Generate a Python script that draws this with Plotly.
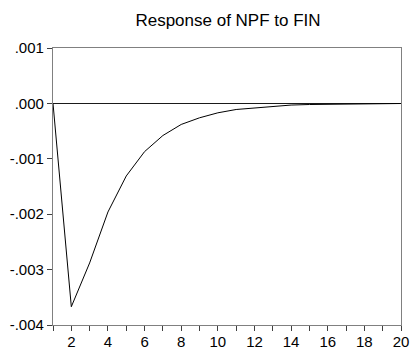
import plotly.graph_objects as go

periods = list(range(1, 21))
response = [0.0, -0.00367, -0.00288, -0.00196, -0.00131, -0.00087, -0.00058,
            -0.00038, -0.00026, -0.00017, -0.00011, -0.00008, -0.00005,
            -0.00003, -0.00002, -0.000015, -0.00001, -0.000006, -0.000004, -0.000002]
y_tick_vals = [0.001, 0.0, -0.001, -0.002, -0.003, -0.004]
y_tick_text = [".001", ".000", "-.001", "-.002", "-.003", "-.004"]
x_tick_vals = periods
x_tick_text = [str(p) if p % 2 == 0 else "" for p in periods]
title = "Response of NPF to FIN"

W, H = 410, 349
fig = go.Figure()
fig.add_trace(go.Scatter(x=periods, y=response, mode="lines",
                         line=dict(color="#000000", width=1), showlegend=False,
                         hoverinfo="skip"))

fig.update_layout(
    width=W, height=H,
    margin=dict(l=53, r=9, t=48, b=24),
    paper_bgcolor="white", plot_bgcolor="white",
    font=dict(family="Liberation Sans, Arial, sans-serif", color="#000000", size=15),
    title=dict(text=title, x=228 / W, xanchor="center",
               y=1 - 20 / H, yanchor="middle", yref="container",
               font=dict(size=17, color="#000000")),
)
fig.update_xaxes(range=[1, 20], tickvals=x_tick_vals, ticktext=x_tick_text,
                 showgrid=False, zeroline=False, showline=True, mirror=True,
                 automargin=False, ticklabelstandoff=-2,
                 linecolor="#808080", linewidth=1.3, ticks="outside", ticklen=5,
                 tickcolor="#404040", tickwidth=1, tickfont=dict(size=15))
fig.update_yaxes(range=[-0.004, 0.001], tickvals=y_tick_vals, ticktext=y_tick_text,
                 showgrid=False, zeroline=True, zerolinecolor="#1a1a1a", zerolinewidth=1,
                 showline=True, mirror=True, automargin=False,
                 linecolor="#808080", linewidth=1.3, ticks="outside", ticklen=5,
                 tickcolor="#404040", tickwidth=1, tickfont=dict(size=15))

# remove the default 8px page margin so the figure fills the window exactly
fig.write_html("out.html", config={"displayModeBar": False},
               post_script="document.body.style.margin='0';"
                           "document.body.style.overflow='hidden';")
